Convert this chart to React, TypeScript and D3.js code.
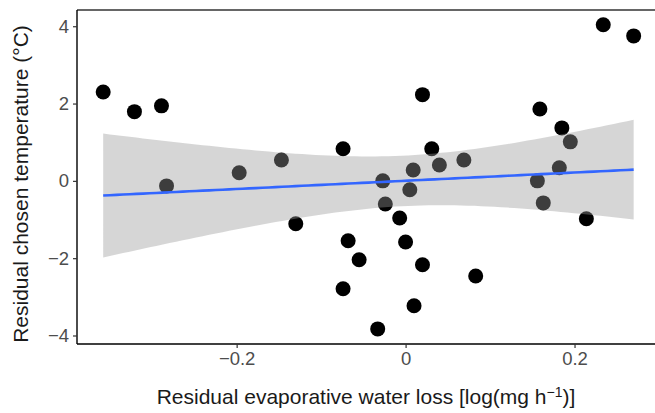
import React, { useEffect, useRef } from 'react'
import * as d3 from 'd3'

// residual evaporative water loss (x) vs residual chosen temperature (y)
const ewl = [-0.358, -0.321, -0.289, -0.283, -0.197, -0.147, -0.130, -0.074, -0.068, -0.055, -0.074, -0.033,
  -0.027, -0.024, -0.007, 0.000, 0.005, 0.009, 0.010, 0.020, 0.020, 0.031, 0.040, 0.069, 0.083,
  0.156, 0.159, 0.163, 0.182, 0.185, 0.195, 0.214, 0.234, 0.270]
const temp = [2.30, 1.79, 1.94, -0.13, 0.21, 0.54, -1.11, 0.83, -1.55, -2.04, -2.79, -3.83,
  0.00, -0.60, -0.96, -1.58, -0.23, 0.28, -3.23, 2.23, -2.17, 0.83, 0.41, 0.54, -2.46,
  0.00, 1.86, -0.57, 0.34, 1.37, 1.01, -0.98, 4.04, 3.75]
const xTicks = [-0.2, 0, 0.2]
const yTicks = [-4, -2, 0, 2, 4]

const W = 655, H = 413
const fmt = (v: number) => (v < 0 ? '\u2212' : '') + Math.abs(v).toString().replace(/^0\./, '0.')

function App() {
  const svgRef = useRef<SVGSVGElement>(null)

  useEffect(() => {
    const svg = d3.select(svgRef.current)
    svg.selectAll('*').remove()

    const x = d3.scaleLinear().domain([-0.389, 0.30]).range([77, 659])
    const y = d3.scaleLinear().domain([-4.22, 4.42]).range([344, 10])

    // linear fit with 95% confidence band
    const n = ewl.length
    const mx = d3.mean(ewl)!, my = d3.mean(temp)!
    const sxx = d3.sum(ewl, v => (v - mx) ** 2)
    const sxy = d3.sum(ewl, (v, i) => (v - mx) * (temp[i] - my))
    const b = sxy / sxx, a = my - b * mx
    const s = Math.sqrt(d3.sum(ewl, (v, i) => (temp[i] - a - b * v) ** 2) / (n - 2))
    const tq = 2.0369
    const [x0, x1] = d3.extent(ewl) as [number, number]
    const grid = d3.range(0, 81).map(i => x0 + (x1 - x0) * i / 80)
    const band = grid.map(v => {
      const se = s * Math.sqrt(1 / n + (v - mx) ** 2 / sxx)
      const f = a + b * v
      return { v, f, lo: f - tq * se, hi: f + tq * se }
    })

    svg.append('g').selectAll('circle').data(ewl).join('circle')
      .attr('cx', d => x(d)).attr('cy', (d, i) => y(temp[i]))
      .attr('r', 7.5).attr('fill', '#000')

    svg.append('path').datum(band)
      .attr('fill', '#999999').attr('fill-opacity', 0.4)
      .attr('d', d3.area<any>().x(d => x(d.v)).y0(d => y(d.lo)).y1(d => y(d.hi)))

    svg.append('path').datum(band)
      .attr('fill', 'none').attr('stroke', '#3366FF').attr('stroke-width', 2.6)
      .attr('d', d3.line<any>().x(d => x(d.v)).y(d => y(d.f)))

    // frame
    svg.append('line').attr('x1', 77).attr('x2', W).attr('y1', 10).attr('y2', 10)
      .attr('stroke', '#333').attr('stroke-width', 1.4)

    const xa = svg.append('g').attr('transform', 'translate(0,344)')
      .call(d3.axisBottom(x).tickValues(xTicks).tickSize(4).tickPadding(4).tickFormat(d => fmt(+d)))
    const ya = svg.append('g').attr('transform', 'translate(77,0)')
      .call(d3.axisLeft(y).tickValues(yTicks).tickSize(4).tickPadding(4).tickFormat(d => fmt(+d)))
    for (const ax of [xa, ya]) {
      ax.select('.domain').attr('stroke', '#000').attr('stroke-width', 1.4)
      ax.selectAll('.tick line').attr('stroke', '#333').attr('stroke-width', 1.2)
      ax.selectAll('.tick text').attr('fill', '#4d4d4d')
        .style('font-family', '"Liberation Sans", Arial, sans-serif').style('font-size', '18.5px')
    }
    xa.select('.domain').attr('d', `M77,0H${W}`)
    ya.select('.domain').attr('d', 'M0,10V344')

    svg.append('text').attr('x', 366).attr('y', 404).attr('text-anchor', 'middle')
      .style('font-family', '"Liberation Sans", Arial, sans-serif').style('font-size', '21px').attr('fill', '#1a1a1a')
      .text('Residual evaporative water loss [log(mg h')
      .call(t => {
        t.append('tspan').attr('dy', -7).style('font-size', '14px').text('\u22121')
        t.append('tspan').attr('dy', 7).text(')]')
      })

    svg.append('text').attr('transform', 'translate(28,184) rotate(-90)').attr('text-anchor', 'middle')
      .style('font-family', '"Liberation Sans", Arial, sans-serif').style('font-size', '21px').attr('fill', '#1a1a1a')
      .text('Residual chosen temperature (°C)')
  }, [])

  return (
    <svg ref={svgRef} width={W} height={H} style={{ position: 'absolute', left: 0, top: 0, background: '#fff' }} />
  )
}
export default App
